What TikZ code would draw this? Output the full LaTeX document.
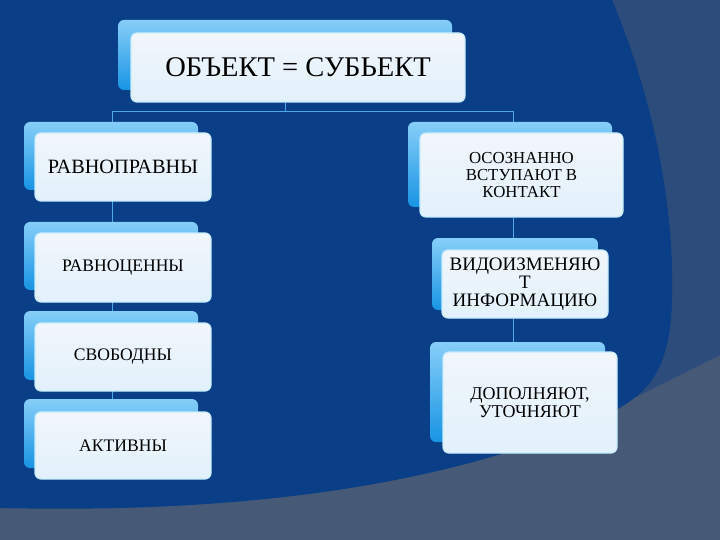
\documentclass[tikz,border=0pt]{standalone}
\usepackage{fontspec}
\setmainfont{Liberation Serif}
\pgfdeclarelayer{bgfill}
\pgfdeclarelayer{conns}
\pgfsetlayers{bgfill,conns,main}
\definecolor{darkbg}{HTML}{0A3E87}
\definecolor{slateup}{HTML}{2C4C7B}
\definecolor{slatelow}{HTML}{465A78}
\definecolor{bbtop}{HTML}{86CEF8}
\definecolor{bbbot}{HTML}{1894E4}
\definecolor{fbtop}{HTML}{F1F6FB}
\definecolor{fbbot}{HTML}{E2F1FB}
\definecolor{fbdraw}{HTML}{C6ECFB}
\definecolor{connc}{HTML}{4FA8EC}
\tikzset{
  backbox/.style={rounded corners=6pt, top color=bbtop, bottom color=bbbot, draw=none, inner sep=0pt},
  frontbox/.style={rounded corners=6pt, top color=fbtop, bottom color=fbbot, draw=fbdraw, line width=1.2pt, align=center, text=black, inner sep=2pt},
  conn/.style={draw=connc, line width=0.8pt},
}
\begin{document}
\begin{tikzpicture}[x=1pt,y=-1pt]
\useasboundingbox (0,0) rectangle (720,540);
% ---- boxes: back then front
\node[backbox, minimum width=334, minimum height=70] (tb) at (285,55) {};
\node[frontbox, minimum width=334, minimum height=69, font=\fontsize{28.5}{30}\selectfont] (t) at (298,67.5)
  {ОБЪЕКТ = СУБЬЕКТ};
% left column
\node[backbox, minimum width=174, minimum height=68] (l1b) at (111,156) {};
\node[frontbox, minimum width=176, minimum height=68, font=\fontsize{20.3}{22}\selectfont] (l1) at (123,167)
  {РАВНОПРАВНЫ};
\node[backbox, minimum width=174, minimum height=68] (l2b) at (111,256) {};
\node[frontbox, minimum width=176, minimum height=69, font=\fontsize{17.6}{19}\selectfont] (l2) at (123,267.5)
  {РАВНОЦЕННЫ};
\node[backbox, minimum width=174, minimum height=69] (l3b) at (111,345.5) {};
\node[frontbox, minimum width=176, minimum height=68, font=\fontsize{17.6}{19}\selectfont] (l3) at (123,357)
  {СВОБОДНЫ};
\node[backbox, minimum width=174, minimum height=69] (l4b) at (111,433.5) {};
\node[frontbox, minimum width=176, minimum height=67, font=\fontsize{17.6}{19}\selectfont] (l4) at (123,445.5)
  {АКТИВНЫ};
% right column
\node[backbox, minimum width=204, minimum height=85] (r1b) at (510,164.5) {};
\node[frontbox, minimum width=203, minimum height=84, font=\fontsize{16.8}{17}\selectfont] (r1) at (521.5,175)
  {ОСОЗНАННО\\ВСТУПАЮТ В\\КОНТАКТ};
\node[backbox, minimum width=166, minimum height=72] (r2b) at (515,274) {};
\node[frontbox, minimum width=166, minimum height=68, font=\fontsize{19}{18}\selectfont] (r2) at (525,284)
  {ВИДОИЗМЕНЯЮ\\Т\\ИНФОРМАЦИЮ};
\node[backbox, minimum width=175, minimum height=100] (r3b) at (517.5,392) {};
\node[frontbox, minimum width=174, minimum height=101, font=\fontsize{18}{18}\selectfont] (r3) at (530,402.5)
  {ДОПОЛНЯЮТ,\\УТОЧНЯЮТ};
% ---- connectors
\coordinate (hl) at (112,111);
\coordinate (hm) at (285,111);
\coordinate (hr) at (513,111);
\begin{pgfonlayer}{conns}
\draw[conn] (hm |- t.south) -- (hm);
\draw[conn] (hl) -- (hr);
\draw[conn] (hl) -- (hl |- l4b.north);
\draw[conn] (hr) -- (hr |- r1b.north);
\draw[conn] (hr |- r1.south) -- (hr |- r2b.north);
\draw[conn] (hr |- r2.south) -- (hr |- r3b.north);
\end{pgfonlayer}
% ---- background
\begin{pgfonlayer}{bgfill}
\fill[slatelow] (0,0) rectangle (720,540);
\fill[slateup] (560,0) -- (720,0) -- (720,355) -- (600,415) -- (560,415) -- cycle;
\fill[darkbg] (0,0) -- (612,0) .. controls (650,90) and (675,200) .. (672,300)
  .. controls (670,370) and (650,395) .. (600,418)
  .. controls (480,470) and (300,515) .. (0,508) -- cycle;
\end{pgfonlayer}
\end{tikzpicture}
\end{document}
